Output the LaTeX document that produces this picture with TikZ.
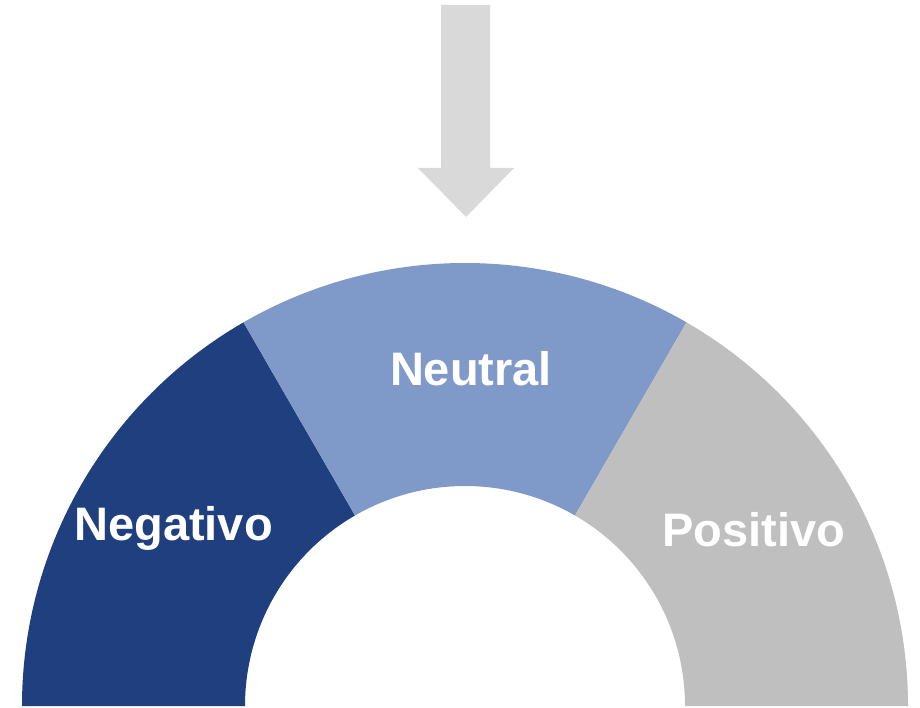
\documentclass[tikz,border=0pt]{standalone}
\usepackage{fontspec}
\setmainfont{Liberation Sans}
\usetikzlibrary{calc}
\definecolor{negblue}{HTML}{1F3F7E}
\definecolor{neublue}{HTML}{7F99C9}
\definecolor{posgray}{HTML}{BFBFBF}
\definecolor{arrowgray}{HTML}{D9D9D9}
\begin{document}
\begin{tikzpicture}[x=1pt,y=1pt,
  seglabel/.style={text=white,font=\fontsize{47}{50}\selectfont\bfseries,anchor=base,inner sep=0pt}]
\useasboundingbox (0,0) rectangle (920,707);
% gauge centre and radii
\coordinate (c) at (465,1);
\def\rout{443pt}
\def\rin{220pt}
% three ring sectors
\fill[negblue] ($(c)+(180:\rout)$) arc[start angle=180,end angle=120,radius=\rout]
  -- ($(c)+(120:\rin)$) arc[start angle=120,end angle=180,radius=\rin] -- cycle;
\fill[neublue] ($(c)+(120:\rout)$) arc[start angle=120,end angle=60,radius=\rout]
  -- ($(c)+(60:\rin)$) arc[start angle=60,end angle=120,radius=\rin] -- cycle;
\fill[posgray] ($(c)+(60:\rout)$) arc[start angle=60,end angle=0,radius=\rout]
  -- ($(c)+(0:\rin)$) arc[start angle=0,end angle=60,radius=\rin] -- cycle;
% pointer arrow
\fill[arrowgray] (441,702) -- (490,702) -- (490,539) -- (514,539) -- (466,490)
  -- (418,539) -- (441,539) -- cycle;
% labels
\node[seglabel] (neg) at (173.5,167) {Negativo};
\node[seglabel] (neu) at (471,321) {Neutral};
\node[seglabel] (pos) at (753.5,161) {Positivo};
\end{tikzpicture}
\end{document}
